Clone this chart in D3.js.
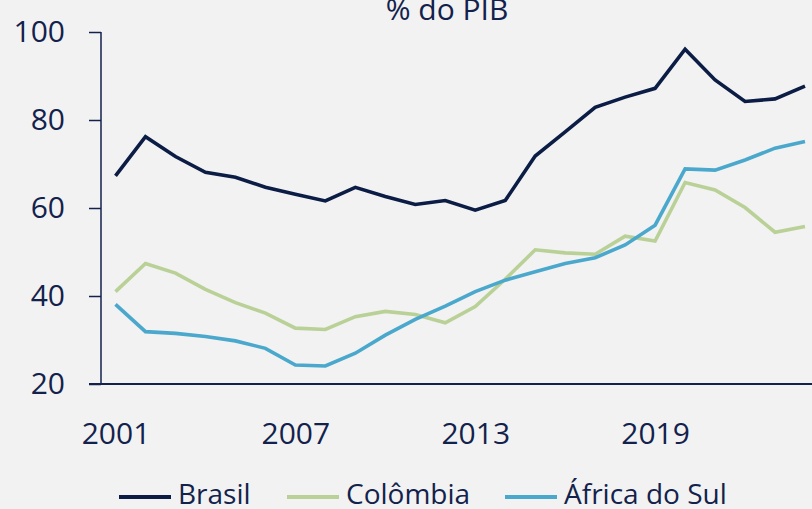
<!DOCTYPE html>
<html>
<head>
<meta charset="utf-8">
<script src="https://cdn.jsdelivr.net/npm/d3@7"></script>
<style>
  html, body { margin: 0; padding: 0; background: #f2f2f2; }
  svg { display: block; }
  text { font-family: "Open Sans", sans-serif; fill: #13224c; }
</style>
</head>
<body>
<svg id="chart" width="812" height="509"></svg>
<script>
const years = d3.range(2001, 2025);
const brasil = [67.3, 76.2, 71.7, 68.1, 67.0, 64.7, 63.1, 61.6, 64.7, 62.6, 60.8, 61.7, 59.5, 61.7, 71.8, 77.3, 82.9, 85.2, 87.2, 96.1, 89.1, 84.2, 84.8, 87.7];
const colombia = [41.0, 47.4, 45.2, 41.5, 38.5, 36.1, 32.7, 32.4, 35.3, 36.5, 35.8, 33.9, 37.6, 43.8, 50.5, 49.8, 49.5, 53.6, 52.5, 65.8, 64.1, 60.1, 54.5, 55.8];
const africaSul = [38.1, 31.9, 31.5, 30.8, 29.8, 28.1, 24.3, 24.1, 27.0, 31.1, 34.7, 37.7, 41.0, 43.6, 45.5, 47.4, 48.7, 51.6, 56.1, 68.9, 68.6, 70.9, 73.6, 75.1];
const seriesNames = ["Brasil", "Colômbia", "África do Sul"];
const xTicks = [2001, 2007, 2013, 2019];
const yTicks = [20, 40, 60, 80, 100];
const title = "% do PIB";

const colors = ["#0b1d45", "#b9d196", "#4ba8cd"];
const allSeries = [brasil, colombia, africaSul];

const svg = d3.select("#chart");
const x = d3.scaleLinear().domain([2001, 2024]).range([115.5, 805]);
const y = d3.scaleLinear().domain([20, 100]).range([384, 32]);

// title
svg.append("text").attr("x", 447).attr("y", 20).attr("text-anchor", "middle")
  .style("font-size", "30px").text(title);

// y axis
const yAxis = svg.append("g").attr("transform", "translate(101,0)")
  .call(d3.axisLeft(y).tickValues(yTicks).tickSize(12).tickPadding(24).tickFormat(d3.format("d")));
yAxis.selectAll("text").style("font-size", "30px").attr("dy", "0.3em");
yAxis.selectAll("line").attr("stroke", "#13224c").attr("stroke-width", 1.5);
yAxis.select(".domain").attr("stroke", "#13224c").attr("stroke-width", 1.5).attr("d", "M0,384V32");

// x axis
const xAxis = svg.append("g").attr("transform", "translate(0,384)")
  .call(d3.axisBottom(x).tickValues(xTicks).tickSize(0).tickPadding(39).tickFormat(d3.format("d")));
xAxis.selectAll("text").style("font-size", "30px").attr("dy", "0.71em").attr("y", 39);
xAxis.select(".domain").attr("stroke", "#13224c").attr("stroke-width", 1.8).attr("d", "M89,0H812");

// lines
const line = d3.line().x((d, i) => x(years[i])).y(d => y(d));
const order = [1, 2, 0];
order.forEach(k => {
  svg.append("path").datum(allSeries[k]).attr("d", line)
    .attr("fill", "none").attr("stroke", colors[k]).attr("stroke-width", 3.6)
    .attr("stroke-linejoin", "miter").attr("stroke-linecap", "butt");
});

// legend
const legX = [119, 287, 505];
seriesNames.forEach((name, k) => {
  svg.append("line").attr("x1", legX[k]).attr("x2", legX[k] + 52)
    .attr("y1", 497).attr("y2", 497).attr("stroke", colors[k]).attr("stroke-width", 4);
  svg.append("text").attr("x", legX[k] + 59).attr("y", 504)
    .style("font-size", "28px").text(name);
});
</script>
</body>
</html>
